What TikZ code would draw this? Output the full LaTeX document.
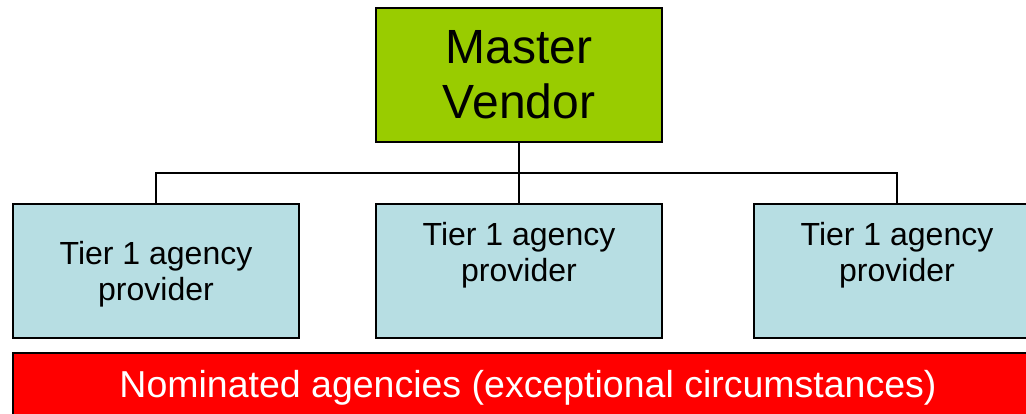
\documentclass[tikz,border=0pt]{standalone}
\usepackage{fontspec}
\setmainfont{Liberation Sans}
\definecolor{vendorgreen}{HTML}{99CC00}
\definecolor{tierblue}{HTML}{B7DEE3}
\definecolor{nomred}{HTML}{FF0000}
\begin{document}
\begin{tikzpicture}[x=1pt,y=-1pt,
  box/.style={draw=black,line width=2pt,inner sep=0pt,minimum width=286pt,minimum height=134pt},
  vendorbox/.style={box,fill=vendorgreen,align=center,font=\fontsize{48}{55}\selectfont},
  tierbox/.style={box,fill=tierblue},
  tiertext/.style={align=center,inner sep=0pt,font=\fontsize{32}{36}\selectfont},
  nombox/.style={draw=black,line width=2pt,fill=nomred,text=white,inner sep=0pt,
    minimum width=1030pt,minimum height=70pt,font=\fontsize{37.5}{42}\selectfont},
  link/.style={draw=black,line width=1.5pt}]
\useasboundingbox (0,0) rectangle (1026,413);
% top of the hierarchy
\node[vendorbox] (mv) at (519,75) {Master\\Vendor};
% tier 1 providers
\node[tierbox] (t1) at (156,271) {};
\node[tierbox] (t2) at (519,271) {};
\node[tierbox] (t3) at (897,271) {};
\node[tiertext] (l1) at (156,274) {Tier 1 agency\\provider};
\node[tiertext] (l2) at (519,255) {Tier 1 agency\\provider};
\node[tiertext] (l3) at (897,255) {Tier 1 agency\\provider};
% bottom band
\node[nombox] (nom) at (528,388) {Nominated agencies (exceptional circumstances)};
% connectors
\coordinate (bar) at (519,173);
\draw[link] (mv.south) -- (t2.north);
\draw[link] (t1.north) -- (t1.north |- bar) -- (t3.north |- bar) -- (t3.north);
\end{tikzpicture}
\end{document}
